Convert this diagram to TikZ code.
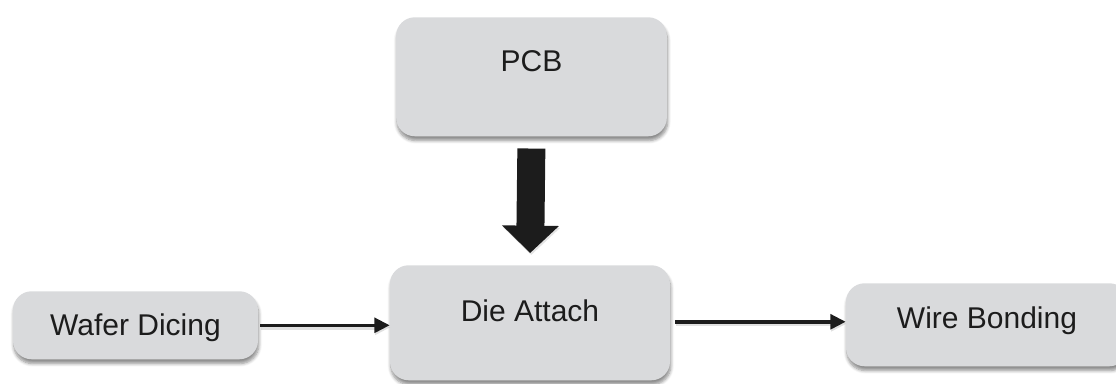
\documentclass[tikz,border=0pt]{standalone}
\usepackage{fontspec}
\setmainfont{Liberation Sans}
\usetikzlibrary{arrows.meta,shadows.blur}
\definecolor{boxfill}{RGB}{217,218,220}
\definecolor{ink}{RGB}{28,28,28}
\begin{document}
\begin{tikzpicture}[x=0.75pt,y=-0.75pt,
  stepbox/.style={fill=boxfill, rounded corners=14pt, inner sep=0pt,
    anchor=north, text=ink, font=\fontsize{22.5}{27}\selectfont,
    blur shadow={shadow xshift=0.6pt, shadow yshift=-3.2pt,
      shadow blur steps=6, shadow blur radius=2.4pt, shadow opacity=45}},
  flow/.style={draw=ink, line width=2.6pt,
    -{Triangle[length=11.5pt,width=11pt]},
    preaction={draw=black!35, line width=3.6pt, opacity=0.35,
      transform canvas={xshift=0.5pt, yshift=-1.5pt}}},
  bigflow/.style={draw=ink, line width=21pt,
    -{Triangle[length=20.5pt,width=41.5pt]}, shorten <=9pt, shorten >=9pt,
    preaction={draw=black!35, opacity=0.3,
      transform canvas={xshift=0.8pt, yshift=-1.5pt}}}]
  \useasboundingbox (0,0) rectangle (1116,383);
  \clip (0,0) rectangle (1116,383);

  % process steps
  \node[stepbox, minimum width=203pt, text height=40.5pt, text depth=48.75pt]
    (pcb) at (531.5,17) {PCB};
  \node[stepbox, minimum width=210pt, text height=42pt, text depth=44.25pt]
    (die) at (530,265) {Die Attach};
  \node[stepbox, minimum width=183.75pt, text height=33pt, text depth=18pt]
    (wafer) at (135.5,291) {Wafer Dicing};
  \node[stepbox, minimum width=211.5pt, text height=33.75pt, text depth=28.5pt]
    (wire) at (987,283) {Wire Bonding};

  % connectors
  \draw[bigflow] (pcb.south) -- (die.north);
  \draw[flow] (wafer.east) ++(2,0) coordinate (w0) -- (w0 -| die.west);
  \draw[flow] ([xshift=3.75pt,yshift=0.75pt]die.east) coordinate (d0) -- (d0 -| wire.west);
\end{tikzpicture}
\end{document}
